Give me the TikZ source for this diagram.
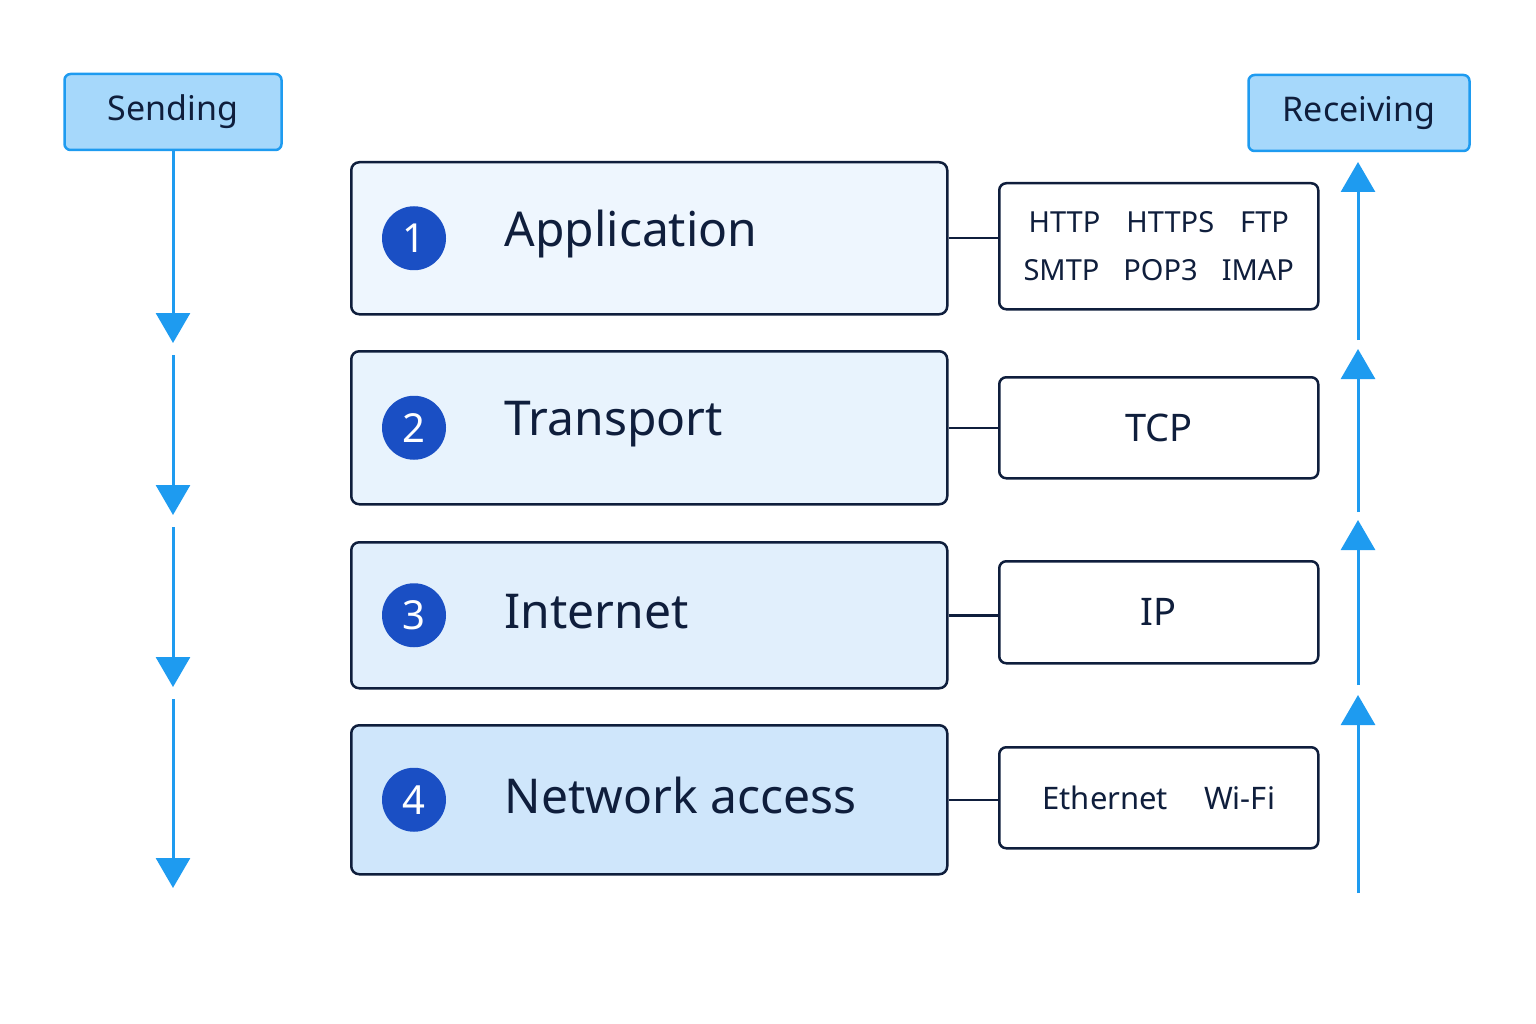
\documentclass[tikz,border=0pt]{standalone}
\usepackage{fontspec}
\setmainfont{Noto Sans}
\usetikzlibrary{arrows.meta,positioning}
\definecolor{inkdark}{HTML}{0F1E3C}
\definecolor{flowblue}{HTML}{1E9BF0}
\definecolor{tagfill}{HTML}{A6D8FB}
\definecolor{numblue}{HTML}{1A4FC4}
\definecolor{layerone}{HTML}{EEF6FE}
\definecolor{layertwo}{HTML}{E8F3FD}
\definecolor{layerthree}{HTML}{E1EFFC}
\definecolor{layerfour}{HTML}{CFE6FB}
\tikzset{
    tag/.style={draw=flowblue, line width=2.5pt, fill=tagfill, rounded corners=6pt,
        minimum width=#1, minimum height=76pt, font=\fontsize{34}{40}\selectfont, text=inkdark},
    layer/.style={draw=inkdark, line width=2.5pt, fill=#1, rounded corners=8pt,
        minimum width=596pt, anchor=north west},
    proto/.style={draw=inkdark, line width=2.5pt, fill=white, rounded corners=7pt,
        minimum width=319pt, anchor=north west, text=inkdark, align=center},
    num/.style={circle, fill=numblue, minimum size=64pt, inner sep=0pt, text=white,
        font=\fontsize{40}{44}\selectfont},
    lname/.style={anchor=west, text=inkdark, font=\fontsize{48}{54}\selectfont},
    flow/.style={draw=flowblue, line width=3pt, -{Triangle[width=34pt,length=30pt]}},
    link/.style={draw=inkdark, line width=2.5pt}
}
\begin{document}
\begin{tikzpicture}[x=1pt,y=-1pt]
    \useasboundingbox (0,0) rectangle (1536,1024);
    \node[tag=217pt] (send) at (173,112) {Sending};
    \node[tag=221pt] (recv) at (1359,113) {Receiving};
    % layers
    \node[layer=layerone, minimum height=152pt] (l1) at (350,161) {};
    \node[layer=layertwo, minimum height=153pt] (l2) at (350,350) {};
    \node[layer=layerthree, minimum height=146pt] (l3) at (350,541) {};
    \node[layer=layerfour, minimum height=149pt] (l4) at (350,724) {};
    \foreach \i/\t in {1/Application,2/Transport,3/Internet,4/Network access}{
        \node[num] (n\i) at ([xshift=64pt]l\i.west) {\i};
        \node[lname] (t\i) at ([xshift=151pt,yshift=4pt]l\i.west) {\t};
    }
    % protocols
    \node[proto, minimum height=126pt, font=\fontsize{29}{50}\selectfont] (p1) at (998,182)
        {HTTP\hspace{26pt}HTTPS\hspace{26pt}FTP\\[-2pt]SMTP\hspace{24pt}POP3\hspace{24pt}IMAP};
    \node[proto, minimum height=101pt, font=\fontsize{38}{44}\selectfont] (p2) at (998,376) {TCP};
    \node[proto, minimum height=102pt, font=\fontsize{38}{44}\selectfont] (p3) at (998,560) {IP};
    \node[proto, minimum height=101pt, font=\fontsize{31}{36}\selectfont] (p4) at (998,746)
        {Ethernet\hspace{36pt}Wi-Fi};
    \foreach \i in {1,...,4}
        \draw[link] (l\i.east) -- (l\i.east -| p\i.west);
    % sending side
    \coordinate (s1) at (173,343);
    \coordinate (s2) at (173,355);
    \coordinate (s3) at (173,515);
    \coordinate (s4) at (173,527);
    \coordinate (s5) at (173,687);
    \coordinate (s6) at (173,699);
    \coordinate (s7) at (173,888);
    \draw[flow] (send.south) -- (s1);
    \draw[flow] (s2) -- (s3);
    \draw[flow] (s4) -- (s5);
    \draw[flow] (s6) -- (s7);
    % receiving side
    \coordinate (r1) at (1358,893);
    \coordinate (r2) at (1358,695);
    \coordinate (r3) at (1358,685);
    \coordinate (r4) at (1358,520);
    \coordinate (r5) at (1358,512);
    \coordinate (r6) at (1358,349);
    \coordinate (r7) at (1358,340);
    \coordinate (r8) at (1358,162);
    \draw[flow] (r1) -- (r2);
    \draw[flow] (r3) -- (r4);
    \draw[flow] (r5) -- (r6);
    \draw[flow] (r7) -- (r8);
\end{tikzpicture}
\end{document}
